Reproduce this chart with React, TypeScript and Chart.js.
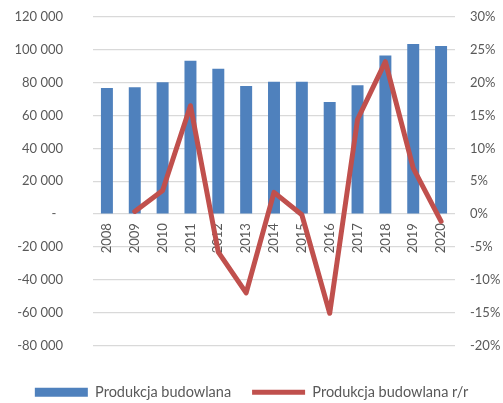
import React, { useEffect, useRef } from "react";
import { Chart, registerables } from "chart.js";

Chart.register(...registerables);

const years = ["2008", "2009", "2010", "2011", "2012", "2013", "2014", "2015", "2016", "2017", "2018", "2019", "2020"];
const production = [76700, 77300, 80200, 93400, 88500, 78000, 80600, 80600, 68300, 78400, 96500, 103600, 102400];
const productionYoY = [null, 0.4, 3.6, 16.5, -5.8, -12.0, 3.3, -0.1, -15.1, 14.4, 23.2, 7.0, -1.1];
const barLabel = "Produkcja budowlana";
const lineLabel = "Produkcja budowlana r/r";

const BAR_COLOR = "#4F81BD";
const LINE_COLOR = "#C0504D";
const TEXT_COLOR = "#595959";
const GRID_COLOR = "#D9D9D9";
const FONT = "Lato, 'Open Sans', sans-serif";

const fmtThousands = (v: number) => {
  if (v === 0) return "-  ";
  const s = Math.abs(v).toString().replace(/\B(?=(\d{3})+(?!\d))/g, " ");
  return (v < 0 ? "-" : "") + s;
};

export default function App() {
  const ref = useRef<HTMLCanvasElement | null>(null);
  useEffect(() => {
    if (!ref.current) return;
    const chart = new Chart(ref.current, {
      type: "bar",
      data: {
        labels: years,
        datasets: [
          {
            type: "bar",
            label: barLabel,
            data: production,
            backgroundColor: BAR_COLOR,
            borderWidth: 0,
            yAxisID: "y",
            categoryPercentage: 1,
            barPercentage: 0.43,
            order: 1,
          },
          {
            type: "line",
            label: lineLabel,
            data: productionYoY as any,
            borderColor: LINE_COLOR,
            backgroundColor: LINE_COLOR,
            borderWidth: 5,
            pointRadius: 0,
            tension: 0,
            borderCapStyle: "round",
            borderJoinStyle: "round",
            yAxisID: "y1",
            order: 0,
          } as any,
        ],
      },
      options: {
        animation: false,
        responsive: true,
        maintainAspectRatio: false,
        layout: { padding: { top: 17, left: 0, right: 0, bottom: -6.5 } },
        font: { family: FONT, size: 13 },
        color: TEXT_COLOR,
        plugins: {
          tooltip: { enabled: false },
          legend: {
            position: "bottom",
            labels: {
              color: TEXT_COLOR,
              font: { family: FONT, size: 14.5 },
              usePointStyle: true,
              pointStyleWidth: 53,
              boxHeight: 9,
              padding: 21,
              generateLabels: () => [
                {
                  text: barLabel,
                  fillStyle: BAR_COLOR,
                  strokeStyle: BAR_COLOR,
                  lineWidth: 0,
                  pointStyle: "rect",
                  datasetIndex: 0,
                  hidden: false,
                  fontColor: TEXT_COLOR,
                } as any,
                {
                  text: lineLabel,
                  fillStyle: LINE_COLOR,
                  strokeStyle: LINE_COLOR,
                  lineWidth: 5,
                  pointStyle: "line",
                  datasetIndex: 1,
                  hidden: false,
                  fontColor: TEXT_COLOR,
                } as any,
              ],
            },
          },
        },
        scales: {
          x: {
            type: "category",
            position: { y: 0 } as any,
            offset: true,
            grid: { display: false, drawTicks: false },
            border: { display: false },
            ticks: {
              color: TEXT_COLOR,
              font: { family: FONT, size: 13 },
              minRotation: 90,
              maxRotation: 90,
              autoSkip: false,
              padding: 9,
            },
          },
          spacer: {
            type: "linear",
            axis: "x",
            position: "bottom",
            display: true,
            grid: { display: false, drawTicks: false },
            border: { display: false },
            ticks: { display: false },
            afterFit: (s: any) => {
              s.height = 18.5;
            },
          } as any,
          y: {
            type: "linear",
            position: "left",
            min: -80000,
            max: 120000,
            grid: { color: GRID_COLOR, lineWidth: 1.3, drawTicks: false },
            border: { display: false },
            ticks: {
              stepSize: 20000,
              color: TEXT_COLOR,
              font: { family: FONT, size: 13 },
              padding: 30,
              callback: (v: any) => fmtThousands(Number(v)),
            },
            afterFit: (s: any) => {
              s.width = 93;
              s.paddingTop = 8;
              s.paddingBottom = 8;
            },
          },
          y1: {
            type: "linear",
            position: "right",
            min: -20,
            max: 30,
            grid: { display: false, drawTicks: false },
            border: { display: false },
            ticks: {
              stepSize: 5,
              color: TEXT_COLOR,
              font: { family: FONT, size: 13 },
              padding: 15,
              callback: (v: any) => `${Math.round(Number(v))}%`,
            },
            afterFit: (s: any) => {
              s.width = 48;
              s.paddingTop = 8;
              s.paddingBottom = 8;
            },
          },
        },
      } as any,
    });
    return () => chart.destroy();
  }, []);
  return (
    <div style={{ position: "absolute", left: 0, top: 0, width: 503, height: 403 }}>
      <canvas ref={ref} />
    </div>
  );
}
